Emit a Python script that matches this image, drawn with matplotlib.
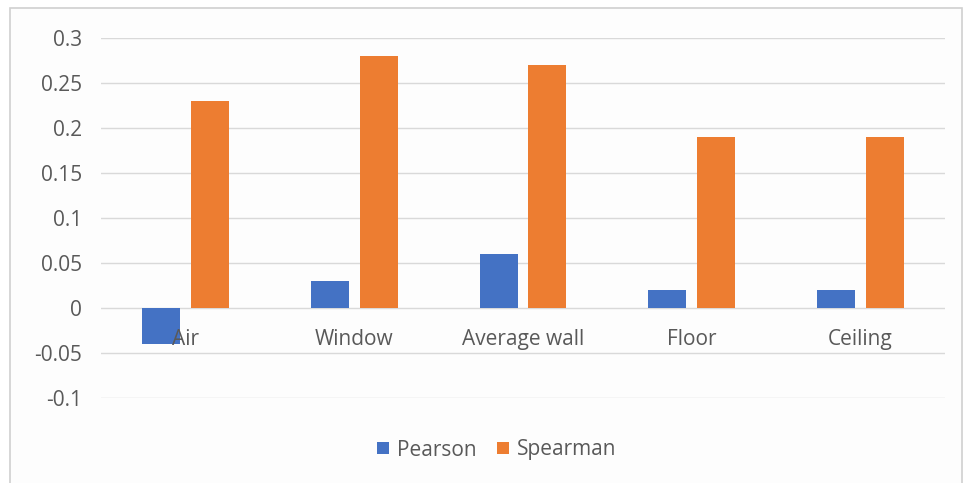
import numpy as np
import matplotlib.pyplot as plt
from matplotlib.patches import Rectangle
from matplotlib.ticker import FuncFormatter
import matplotlib.transforms as mtransforms

# data
categories = ['Air', 'Window', 'Average wall', 'Floor', 'Ceiling']
pearson = [-0.04, 0.03, 0.06, 0.02, 0.02]
spearman = [0.23, 0.28, 0.27, 0.19, 0.19]
yticks = [-0.1, -0.05, 0, 0.05, 0.1, 0.15, 0.2, 0.25, 0.3]

plt.rcParams['font.family'] = ['Open Sans', 'DejaVu Sans']
text_col = '#595959'
fs = 15

fig = plt.figure(figsize=(9.65, 4.83), dpi=100)
fig.patch.set_facecolor('white')
# chart frame like a spreadsheet chart
fig.patches.append(Rectangle((10 / 965, -0.01), 952 / 965, 1 - 8 / 483 + 0.01,
                             transform=fig.transFigure, facecolor='#fdfdfd',
                             edgecolor='#d0d0d0', linewidth=1.2, zorder=-10))

ax = fig.add_axes([101 / 965, 85 / 483, 844 / 965, 360 / 483])
ax.set_facecolor('none')

x = np.arange(len(categories))
w = 0.225
gap = 0.065
ax.bar(x - (w + gap) / 2, pearson, w, color='#4472C4', label='Pearson', zorder=3)
ax.bar(x + (w + gap) / 2, spearman, w, color='#ED7D31', label='Spearman', zorder=3)

ax.set_xlim(-0.5, len(categories) - 0.5)
ax.set_ylim(-0.1005, 0.3005)
ax.set_yticks(yticks)
ax.yaxis.set_major_formatter(FuncFormatter(lambda v, p: '%g' % round(v, 2)))
ax.grid(axis='y', color='#d9d9d9', linewidth=1, zorder=0)
ax.tick_params(axis='y', length=0, pad=13.5, labelsize=fs, colors=text_col)
ax.set_xticks([])
for s in ax.spines.values():
    s.set_visible(False)

# category labels sit just under the zero line
trans = mtransforms.offset_copy(ax.transData, fig=fig, x=0, y=-32, units='dots')
for i, c in enumerate(categories):
    ax.text(i, 0, c, transform=trans, ha='center', va='center',
            fontsize=fs, color=text_col, zorder=4)

leg = fig.legend(loc='center', bbox_to_anchor=(497 / 965, 1 - 450 / 483), ncol=2,
                 frameon=False, fontsize=fs, handlelength=0.55, handleheight=0.55,
                 handletextpad=0.4, columnspacing=1.0)
for t in leg.get_texts():
    t.set_color(text_col)

plt.savefig('out.png', dpi=100)
plt.close('all')
